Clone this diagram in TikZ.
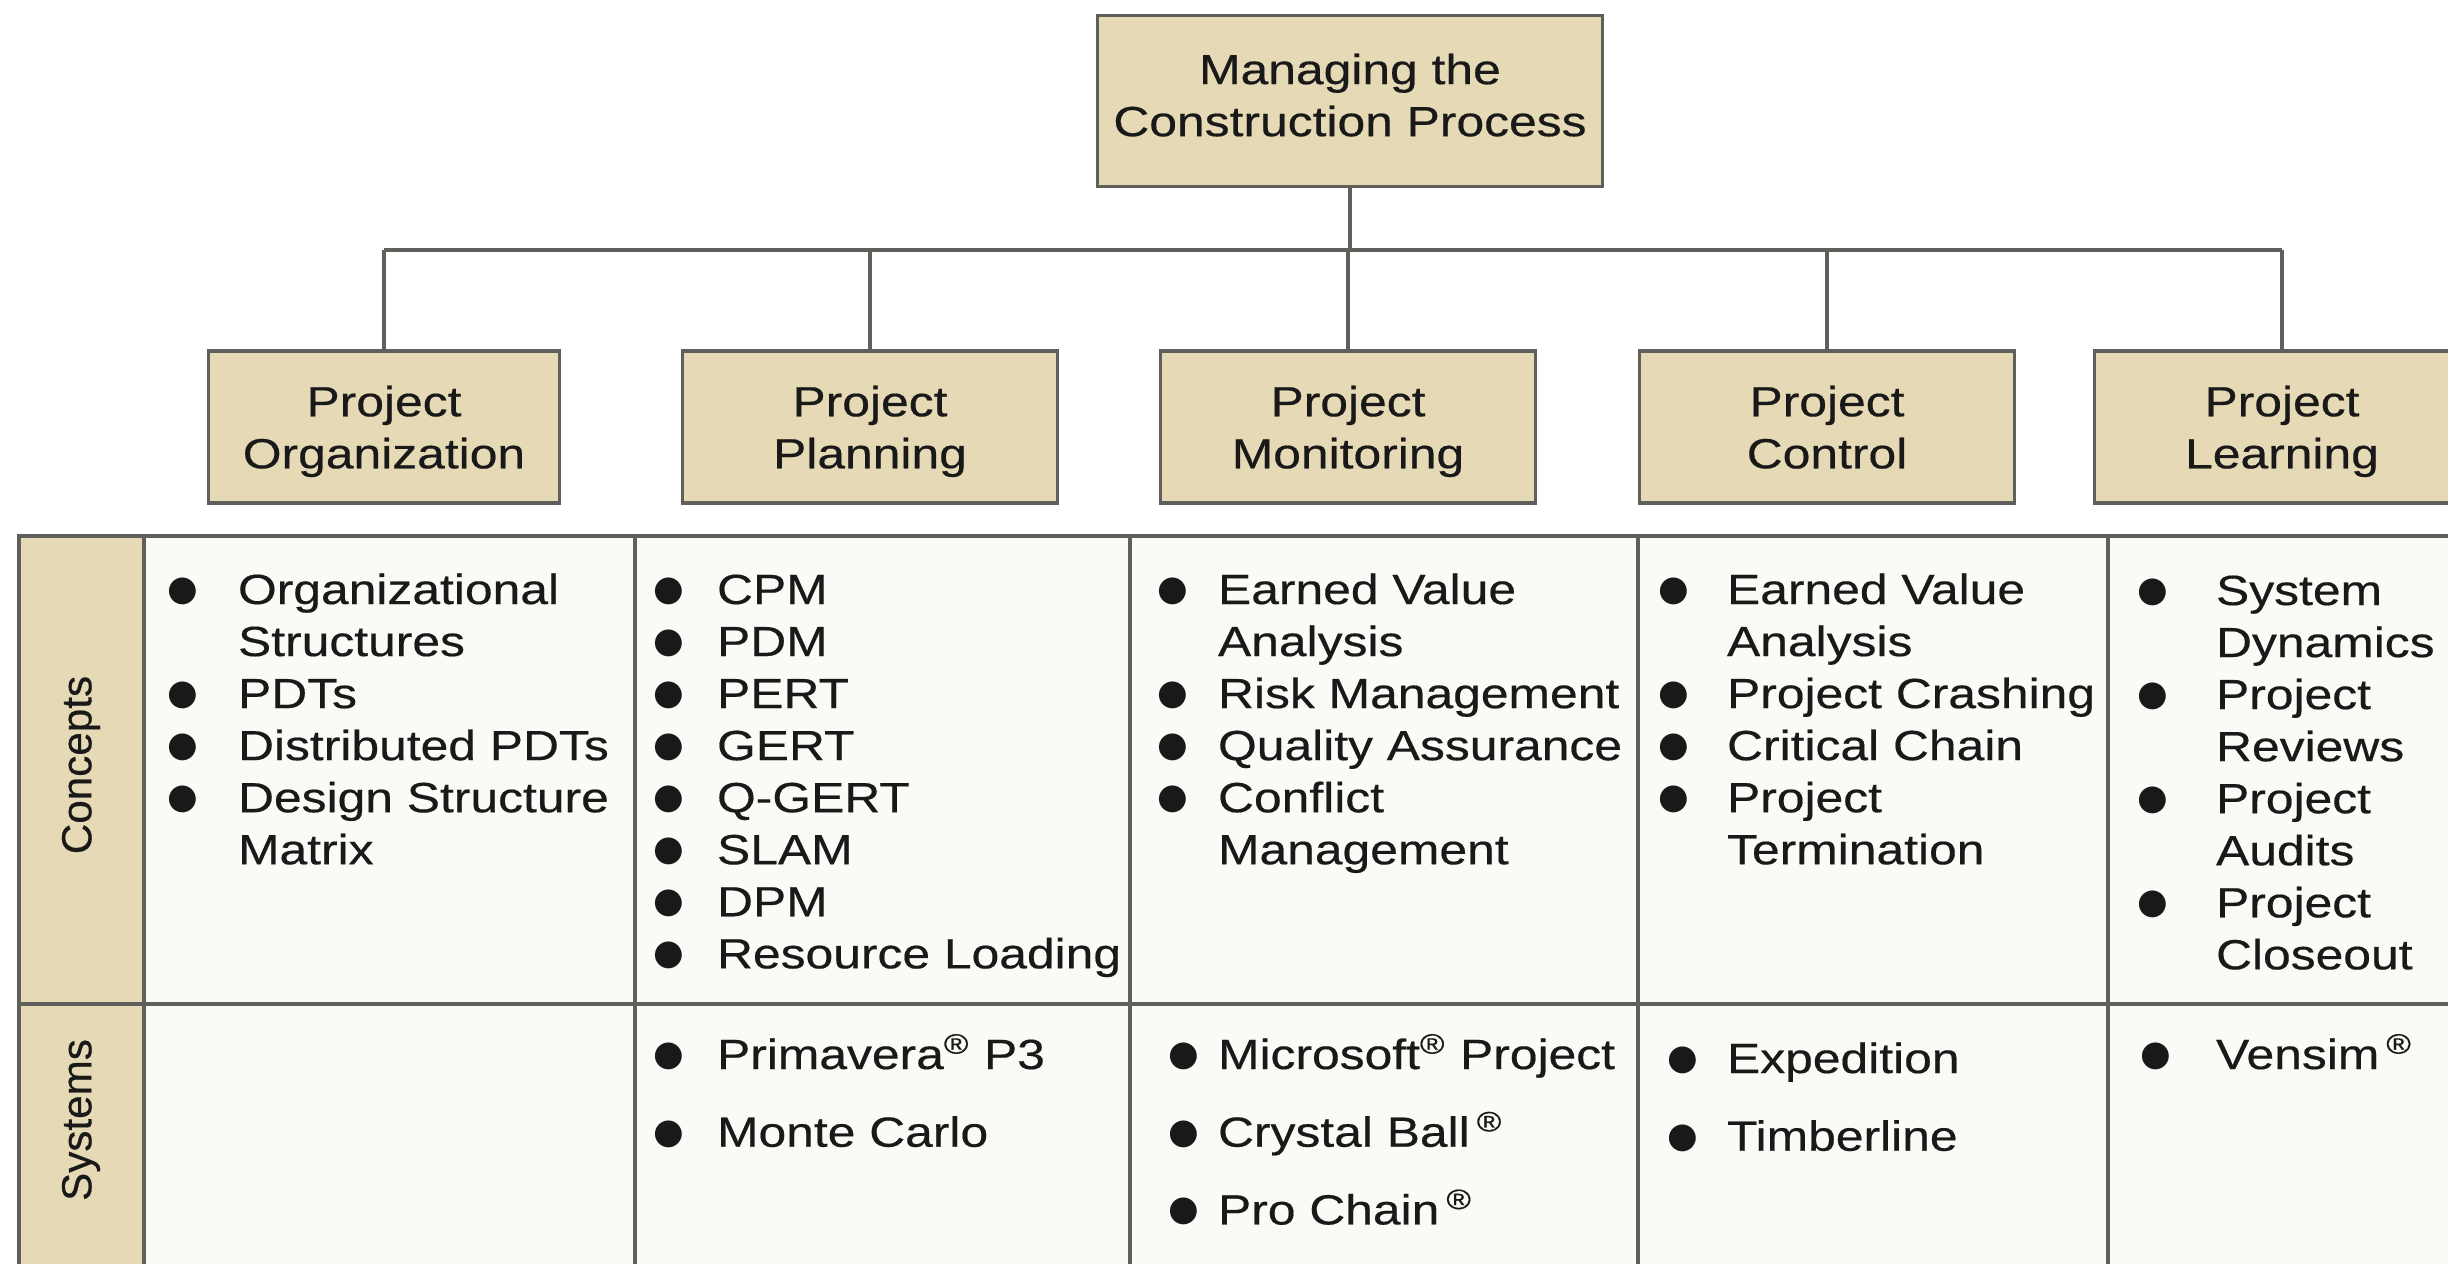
\documentclass[tikz,border=0pt]{standalone}
\usepackage{fontspec}
\setmainfont[FakeStretch=1.18,FakeBold=0.4]{Liberation Sans}
\newfontfamily\rotfont[FakeBold=0.4]{Liberation Sans}
\newfontfamily\symfont{DejaVu Sans}
\usepackage{tikz}
\definecolor{boxtan}{RGB}{229,218,181}
\definecolor{cellwhite}{RGB}{250,250,246}
\definecolor{linegray}{RGB}{95,95,92}
\definecolor{textdark}{RGB}{25,25,25}
\newcommand{\itemlist}[2]{\begin{tabular}[t]{@{}l@{\hspace{#1}}l@{}}#2\end{tabular}}
\newcommand{\regmark}{\textsuperscript{\textregistered}}
\newcommand{\dotmark}{\makebox[0.41em][c]{\raisebox{1pt}{\symfont\fontsize{10}{11}\selectfont ●}}}

\begin{document}
\begin{tikzpicture}[x=0.01cm,y=-0.01cm,
  head/.style={draw=linegray,line width=1pt,fill=boxtan,align=center,text=textdark,inner sep=0pt,
    font=\fontsize{12}{14.8}\selectfont,minimum height=1.52cm,minimum width=3.75cm,text depth=0pt},
  link/.style={draw=linegray,line width=1pt},
  grid/.style={draw=linegray,line width=1.3pt},
  lst/.style={anchor=base west,inner sep=0pt,text=textdark,font=\fontsize{12}{14.8}\selectfont},
  side/.style={rotate=90,text=textdark,font=\rotfont\fontsize{12}{14}\selectfont}]

\useasboundingbox (0,0) rectangle (2448,1263);
\clip (0,0) rectangle (2448,1263);

% header boxes
\node[head,minimum width=5.05cm,minimum height=1.71cm,text depth=3.5pt] (top) at (1350,101) {Managing the\\Construction Process};
\node[head,minimum width=3.51cm] (org) at (384,427) {Project\\Organization};
\node[head] (plan) at (870,427) {Project\\Planning};
\node[head] (mon) at (1348,427) {Project\\Monitoring};
\node[head] (ctrl) at (1827,427) {Project\\Control};
\node[head] (learn) at (2282,427) {Project\\Learning};

% connectors
\coordinate (bus) at (1350,250);
\draw[link] (top.south) -- (bus);
\draw[link] (org.north |- bus) -- (learn.north |- bus);
\foreach \n in {org,plan,mon,ctrl,learn}
  \draw[link] (\n.north) -- (\n.north |- bus);

% table
\fill[cellwhite] (144,536) rectangle (2460,1270);
\fill[boxtan] (19,536) rectangle (144,1270);
\draw[grid] (19,1270) -- (19,536) -- (2460,536);
\draw[grid] (19,1004) -- (2460,1004);
\foreach \x in {144,635,1130,1638,2108}
  \draw[grid] (\x,536) -- (\x,1270);

\node[side] (concepts) at (81,765) {Concepts};
\node[side] (systems) at (81,1120) {Systems};

% concepts row
\node[lst] (orgC) at (173,604) {\itemlist{0.47cm}{\dotmark & Organizational\\ & Structures\\ \dotmark & PDTs\\ \dotmark & Distributed PDTs\\ \dotmark & Design Structure\\ & Matrix}};
\node[lst] (planC) at (659,604) {\itemlist{0.40cm}{\dotmark & CPM\\ \dotmark & PDM\\ \dotmark & PERT\\ \dotmark & GERT\\ \dotmark & Q-GERT\\ \dotmark & SLAM\\ \dotmark & DPM\\ \dotmark & Resource Loading}};
\node[lst] (monC) at (1163,604) {\itemlist{0.37cm}{\dotmark & Earned Value\\ & Analysis\\ \dotmark & Risk Management\\ \dotmark & Quality Assurance\\ \dotmark & Conflict\\ & Management}};
\node[lst] (ctrlC) at (1664,604) {\itemlist{0.45cm}{\dotmark & Earned Value\\ & Analysis\\ \dotmark & Project Crashing\\ \dotmark & Critical Chain\\ \dotmark & Project\\ & Termination}};
\node[lst] (learnC) at (2143,605) {\itemlist{0.55cm}{\dotmark & System\\ & Dynamics\\ \dotmark & Project\\ & Reviews\\ \dotmark & Project\\ & Audits\\ \dotmark & Project\\ & Closeout}};

% systems row
\node[lst] (planS) at (659,1069) {\itemlist{0.40cm}{\dotmark & Primavera\regmark{} P3\\[7.3pt] \dotmark & Monte Carlo}};
\node[lst] (monS) at (1174,1069) {\itemlist{0.26cm}{\dotmark & Microsoft\regmark{} Project\\[7.3pt] \dotmark & Crystal Ball\,\regmark\\[7.3pt] \dotmark & Pro Chain\,\regmark}};
\node[lst] (ctrlS) at (1673,1073) {\itemlist{0.36cm}{\dotmark & Expedition\\[7.3pt] \dotmark & Timberline}};
\node[lst] (learnS) at (2146,1069) {\itemlist{0.52cm}{\dotmark & Vensim\,\regmark}};
\end{tikzpicture}
\end{document}
